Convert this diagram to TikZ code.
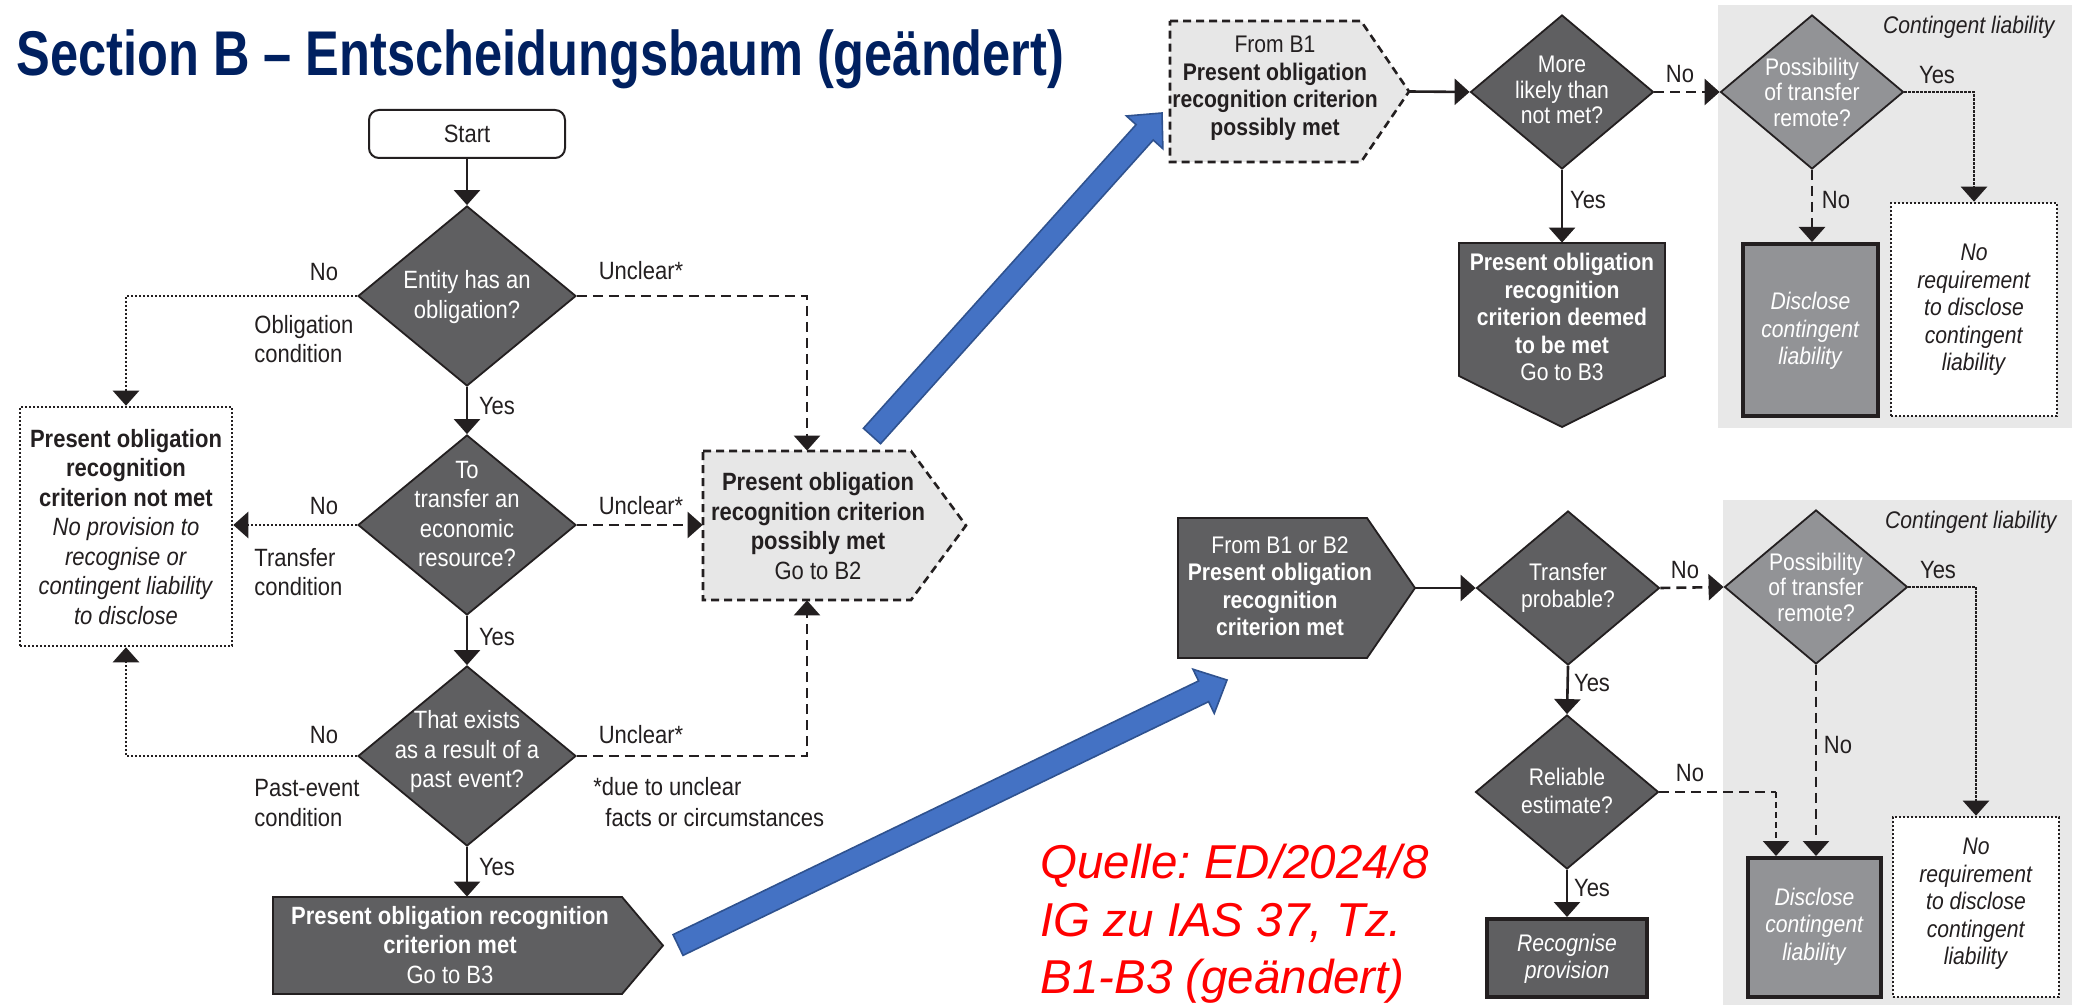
\documentclass[tikz,border=0pt]{standalone}
\usepackage{fontspec}
\setmainfont{Liberation Sans}
\newfontfamily\cond[FakeStretch=0.88]{Liberation Sans}
\newfontfamily\titlefont[FakeStretch=0.8]{Liberation Sans}
\usetikzlibrary{arrows.meta,shapes.geometric,calc}
\definecolor{dkfill}{RGB}{95,95,97}
\definecolor{mdfill}{RGB}{146,147,150}
\definecolor{ltfill}{RGB}{231,231,231}
\definecolor{regionfill}{RGB}{232,232,232}
\definecolor{ink}{RGB}{35,31,32}
\definecolor{navy}{RGB}{0,32,96}
\definecolor{bblue}{RGB}{68,114,196}
\definecolor{bedge}{RGB}{47,82,143}
\definecolor{quelle}{RGB}{255,0,0}
\newcommand\fL{\cond\fontsize{12.5}{14.75}\selectfont}
\newcommand\fR{\cond\fontsize{12}{13.75}\selectfont}
\newcommand\fRt{\cond\fontsize{12}{12.75}\selectfont}
\newcommand\blockarrow[2]{%
  \coordinate (ba-bm) at ($(#2)!13pt!(#1)$);
  \filldraw[fill=bblue, draw=bedge, line width=0.8pt, line join=miter]
    ($(#1)!5.75pt!90:(#2)$) -- ($(ba-bm)!5.75pt!90:(#2)$) -- ($(ba-bm)!12.25pt!90:(#2)$)
    -- (#2) -- ($(ba-bm)!12.25pt!-90:(#2)$) -- ($(ba-bm)!5.75pt!-90:(#2)$)
    -- ($(#1)!5.75pt!-90:(#2)$) -- cycle;}
\tikzset{
  txt/.style={inner sep=0pt, align=center, text=ink, font=\fL},
  wtxt/.style={txt, text=white},
  rtxt/.style={txt, font=\fR},
  rwtxt/.style={rtxt, text=white},
  ddia/.style={diamond, draw=ink, line width=0.9pt, fill=dkfill, minimum width=109pt, minimum height=90pt, inner sep=0pt},
  sdia/.style={ddia, minimum width=91.5pt, minimum height=77pt},
  mdia/.style={sdia, fill=mdfill},
  hold/.style={inner sep=0pt, minimum width=#1},
  conn/.style={line width=1.3pt, draw=ink, -{Triangle[width=13pt,length=7.5pt]}},
  dsh/.style={conn, dash pattern=on 5pt off 3pt},
  dshthin/.style={conn, line width=1.1pt, dash pattern=on 3pt off 2pt},
  dot/.style={conn, line width=1.3pt, dash pattern=on 1.2pt off 0.8pt},
  dotbox/.style={draw=ink, line width=1.3pt, dash pattern=on 1.2pt off 0.8pt, fill=white, inner sep=0pt},
  heavybox/.style={draw=ink, line width=2pt, inner sep=0pt},
  pentdk/.style={fill=dkfill, draw=ink, line width=0.9pt},
  pentlt/.style={fill=ltfill, draw=ink, line width=1.3pt, dash pattern=on 4pt off 2.5pt},
  srcstyle/.style={anchor=base west, inner sep=0pt, text=quelle, font=\fontsize{23.75}{28.5}\selectfont\itshape\frenchspacing},
}
\begin{document}
\begin{tikzpicture}[x=0.5pt,y=-0.5pt]
\useasboundingbox (0,0) rectangle (2080,1005);
\fill[white] (0,0) rectangle (2080,1005);
% grey regions
\fill[regionfill] (1718,5) rectangle (2072,428);
\fill[regionfill] (1723,500) rectangle (2072,1005);

% title
\node[anchor=base west, inner sep=0pt, text=navy, font=\titlefont\bfseries\fontsize{31.6}{38}\selectfont] (title) at (16,76) {Section B – Entscheidungsbaum (geändert)};

% ---------------- left tree ----------------
\node[draw=ink, line width=1pt, rounded corners=5pt, fill=white, minimum width=98pt, minimum height=24pt, inner sep=0pt, font=\fL, text=ink] (start) at (467,134) {Start};
\node[ddia] (d1) at (467,296) {};
\node[wtxt] (d1t) at (467,297) {Entity has an\\obligation?};
\node[ddia] (d2) at (467,525) {};
\node[wtxt] (d2t) at (467,514) {To\\transfer an\\economic\\resource?};
\node[ddia] (d3) at (467,756) {};
\node[wtxt] (d3t) at (467,752) {That exists\\as a result of a\\past event?};

\filldraw[pentdk] (273,897) -- (622,897) -- (663,945.5) -- (622,994) -- (273,994) -- cycle;
\node[hold=174.5pt, minimum height=48.5pt] (met) at (447.5,945.5) {};
\coordinate (mettip) at (663,945.5);
\node[wtxt] (mett) at (450,945) {\textbf{Present obligation recognition}\\\textbf{criterion met}\\Go to B3};

\node[dotbox, minimum width=106pt, minimum height=119.5pt] (notmet) at (126,526.5) {};
\node[txt] (notmett) at (126,527) {\textbf{Present obligation}\\\textbf{recognition}\\\textbf{criterion not met}\\\textit{No provision to}\\\textit{recognise or}\\\textit{contingent liability}\\\textit{to disclose}};

\filldraw[pentlt] (703,451) -- (911,451) -- (966,525.5) -- (911,600) -- (703,600) -- cycle;
\node[hold=104pt, minimum height=74.5pt] (poss) at (807,525.5) {};
\node[txt] (posst) at (818,526) {\textbf{Present obligation}\\\textbf{recognition criterion}\\\textbf{possibly met}\\Go to B2};

% left connectors
\draw[conn] (start.south) -- (d1.north);
\draw[conn] (d1.south) -- (d2.north);
\draw[conn] (d2.south) -- (d3.north);
\draw[conn] (d3.south) -- (d3.south |- met.north);
\draw[dot] (d1.west) -| (notmet.north);
\draw[dot] (d2.west) -- (d2.west -| notmet.east);
\draw[dot] (d3.west) -| (notmet.south);
\draw[dsh] (d1.east) -| (poss.north);
\draw[dsh] (d2.east) -- (d2.east -| poss.west);
\draw[dsh] (d3.east) -| (poss.south);

% left labels
\node[txt] (y1) at (497,406) {Yes};
\node[txt] (y2) at (497,637) {Yes};
\node[txt] (y3) at (497,867) {Yes};
\node[txt] (n1) at (324,272) {No};
\node[txt] (n2) at (324,506) {No};
\node[txt] (n3) at (324,735) {No};
\node[txt, anchor=west, align=left] (c1) at (254,339) {Obligation\\condition};
\node[txt, anchor=west, align=left] (c2) at (254,572) {Transfer\\condition};
\node[txt, anchor=west, align=left] (c3) at (254,803) {Past-event\\condition};
\node[txt] (u1) at (641,271) {Unclear*};
\node[txt] (u2) at (641,506) {Unclear*};
\node[txt] (u3) at (641,735) {Unclear*};
\node[txt, anchor=west] (fn1) at (593,787) {*due to unclear};
\node[txt, anchor=west] (fn2) at (605,818) {facts or circumstances};

% ---------------- top right ----------------
\filldraw[pentlt] (1170,21) -- (1361,21) -- (1409,91.5) -- (1361,162) -- (1170,162) -- cycle;
\node[hold=95.5pt, minimum height=70.5pt] (frb1) at (1265.5,91.5) {};
\coordinate (frb1tip) at (1409,91.5);
\node[rtxt] (frb1t) at (1275,88) {From B1\\\textbf{Present obligation}\\\textbf{recognition criterion}\\\textbf{possibly met}};

\node[sdia] (d4) at (1562,92) {};
\node[wtxt, font=\fRt] (d4t) at (1562,90) {More\\likely than\\not met?};

\filldraw[pentdk] (1459,243) -- (1665,243) -- (1665,376) -- (1562,427) -- (1459,376) -- cycle;
\node[hold=103pt, minimum height=66.5pt] (deemed) at (1562,309.5) {};
\node[rwtxt] (deemedt) at (1562,317) {\textbf{Present obligation}\\\textbf{recognition}\\\textbf{criterion deemed}\\\textbf{to be met}\\Go to B3};

\node[mdia] (d5) at (1812,92) {};
\node[wtxt, font=\fRt] (d5t) at (1812,92) {Possibility\\of transfer\\remote?};
\node[heavybox, fill=mdfill, minimum width=67.5pt, minimum height=86pt] (disc1) at (1810.5,330) {};
\node[rwtxt] (disc1t) at (1810.5,331) {\textit{Disclose}\\\textit{contingent}\\\textit{liability}};
\node[dotbox, minimum width=83pt, minimum height=106.5pt] (noreq1) at (1974,309.5) {};
\node[rtxt] (noreq1t) at (1974,310) {\textit{No}\\\textit{requirement}\\\textit{to disclose}\\\textit{contingent}\\\textit{liability}};
\node[rtxt, anchor=east] (cl1) at (2056,27) {\textit{Contingent liability}};

\draw[conn] (frb1tip) -- (d4.west);
\draw[conn] (d4.south) -- (deemed.north);
\draw[dsh] (d4.east) -- (d5.west);
\draw[dsh] (d5.south) -- (d5.south |- disc1.north);
\draw[dot] (d5.east) -| (noreq1.north);
\node[txt] (y4) at (1588,200) {Yes};
\node[txt] (n4) at (1680,74) {No};
\node[txt] (y5) at (1937,75) {Yes};
\node[txt] (n5) at (1836,200) {No};

% ---------------- bottom right ----------------
\filldraw[pentdk] (1178,518) -- (1367,518) -- (1415,588) -- (1367,658) -- (1178,658) -- cycle;
\node[hold=94.5pt, minimum height=70pt] (frb12) at (1272.5,588) {};
\coordinate (frb12tip) at (1415,588);
\node[rwtxt] (frb12t) at (1280,586) {From B1 or B2\\\textbf{Present obligation}\\\textbf{recognition}\\\textbf{criterion met}};

\node[sdia] (d6) at (1568,588) {};
\node[rwtxt] (d6t) at (1568,588) {Transfer\\probable?};
\node[sdia] (d8) at (1567,792) {};
\node[rwtxt] (d8t) at (1567,791) {Reliable\\estimate?};
\node[heavybox, fill=dkfill, minimum width=80pt, minimum height=39pt] (recog) at (1567,958) {};
\node[rwtxt] (recogt) at (1567,959) {\textit{Recognise}\\\textit{provision}};

\node[mdia] (d7) at (1816,587) {};
\node[wtxt, font=\fRt] (d7t) at (1816,587) {Possibility\\of transfer\\remote?};
\node[heavybox, fill=mdfill, minimum width=66.5pt, minimum height=69.5pt] (disc2) at (1814.5,927.5) {};
\node[rwtxt] (disc2t) at (1814.5,926.5) {\textit{Disclose}\\\textit{contingent}\\\textit{liability}};
\node[dotbox, minimum width=83pt, minimum height=90pt] (noreq2) at (1976,907) {};
\node[rtxt] (noreq2t) at (1976,904) {\textit{No}\\\textit{requirement}\\\textit{to disclose}\\\textit{contingent}\\\textit{liability}};
\node[rtxt, anchor=east] (cl2) at (2058,522) {\textit{Contingent liability}};

\coordinate (d8x) at ([xshift=-19.25pt]disc2.north);
\draw[conn] (frb12tip) -- (d6.west);
\draw[conn] (d6.south) -- (d8.north);
\draw[conn] (d8.south) -- (recog.north);
\draw[dsh] (d6.east) -- (d7.west);
\draw[dsh] (d7.south) -- (d7.south |- disc2.north);
\draw[dot] (d7.east) -| (noreq2.north);
\draw[dsh, -] (d8.east) -- (d8.east -| d8x);
\draw[dshthin] (d8.east -| d8x) -- (d8x);
\node[txt] (n6) at (1685,570) {No};
\node[txt] (y6) at (1592,683) {Yes};
\node[txt] (n8) at (1690,773) {No};
\node[txt] (y8) at (1592,888) {Yes};
\node[txt] (y7) at (1938,570) {Yes};
\node[txt] (n7) at (1838,745) {No};

% blue block arrows
\coordinate (ba1tail) at (872,436);
\coordinate (ba1tip) at (1162,113);
\coordinate (ba2tail) at (678,945);
\coordinate (ba2tip) at (1227,680);
\blockarrow{ba1tail}{ba1tip}
\blockarrow{ba2tail}{ba2tip}

% source note
\node[srcstyle] (src1) at (1040,878) {Quelle: ED/2024/8};
\node[srcstyle] (src2) at (1040,936) {IG zu IAS 37, Tz.};
\node[srcstyle] (src3) at (1040,993) {B1-B3 (geändert)};
\end{tikzpicture}
\end{document}
